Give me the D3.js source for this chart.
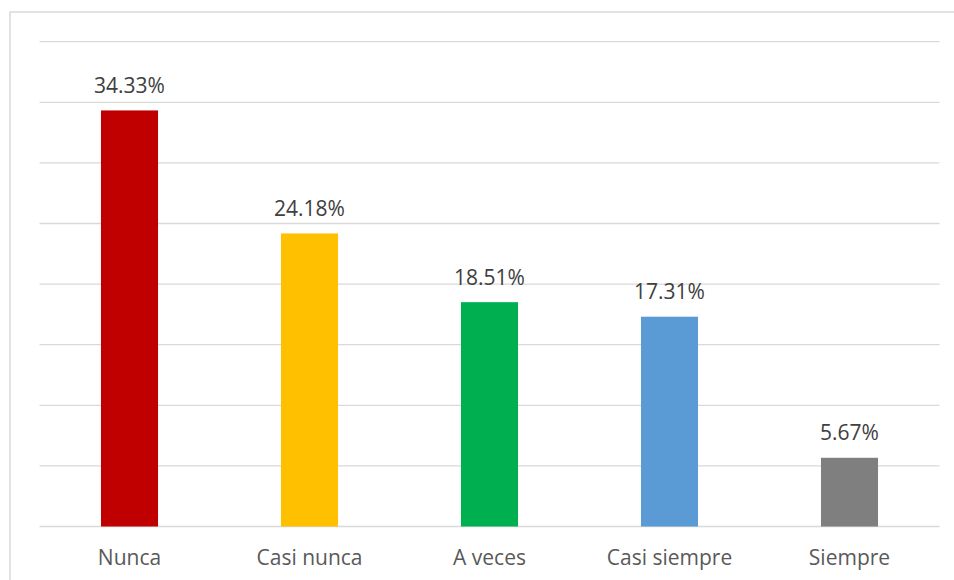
<!DOCTYPE html>
<html>
<head>
<meta charset="utf-8">
<script src="https://cdn.jsdelivr.net/npm/d3@7/dist/d3.min.js"></script>
<style>
  html, body { margin: 0; padding: 0; background: #fff; }
  svg { display: block; }
</style>
</head>
<body>
<svg id="chart" width="954" height="580"></svg>
<script>
// Response categories and their percentages
const categories = ["Nunca", "Casi nunca", "A veces", "Casi siempre", "Siempre"];
const values = [34.33, 24.18, 18.51, 17.31, 5.67];
const colors = ["#C00000", "#FFC000", "#00B050", "#5B9BD5", "#7F7F7F"];
const gridTicks = [0, 5, 10, 15, 20, 25, 30, 35, 40];

const svg = d3.select("#chart");
const margin = { left: 39.5, right: 14.5, top: 41.7, bottom: 53.5 };
const W = 954, H = 580;
const font = "'Open Sans', Lato, sans-serif";

// Outer frame of the chart area
svg.append("rect")
  .attr("x", 10).attr("y", 12)
  .attr("width", 960).attr("height", 600)
  .attr("fill", "none")
  .attr("stroke", "#D9D9D9")
  .attr("stroke-width", 1.5);

const x = d3.scaleBand()
  .domain(categories)
  .range([margin.left, W - margin.right])
  .paddingInner(0.683)
  .paddingOuter(0.3415);

const y = d3.scaleLinear()
  .domain([0, 40])
  .range([H - margin.bottom, margin.top]);

// Horizontal gridlines
svg.append("g")
  .selectAll("line")
  .data(gridTicks)
  .join("line")
  .attr("x1", margin.left)
  .attr("x2", W - margin.right)
  .attr("y1", d => y(d))
  .attr("y2", d => y(d))
  .attr("stroke", "#D9D9D9")
  .attr("stroke-width", 1.3);

// Bars
svg.append("g")
  .selectAll("rect")
  .data(values)
  .join("rect")
  .attr("x", (d, i) => x(categories[i]))
  .attr("width", x.bandwidth())
  .attr("y", d => y(d))
  .attr("height", d => y(0) - y(d))
  .attr("fill", (d, i) => colors[i]);

// Value labels above bars
svg.append("g")
  .selectAll("text")
  .data(values)
  .join("text")
  .attr("x", (d, i) => x(categories[i]) + x.bandwidth() / 2)
  .attr("y", d => y(d) - 17.5)
  .attr("text-anchor", "middle")
  .attr("font-family", font)
  .attr("font-size", 21)
  .attr("fill", "#404040")
  .text(d => d.toFixed(2) + "%");

// Category axis labels
const xAxis = d3.axisBottom(x).tickSize(0).tickPadding(0);
const gx = svg.append("g")
  .attr("transform", `translate(0, ${y(0)})`)
  .call(xAxis);
gx.select(".domain").remove();
gx.selectAll("text")
  .attr("dy", 0)
  .attr("y", 38.5)
  .attr("font-family", font)
  .attr("font-size", 21)
  .attr("fill", "#595959");
</script>
</body>
</html>
